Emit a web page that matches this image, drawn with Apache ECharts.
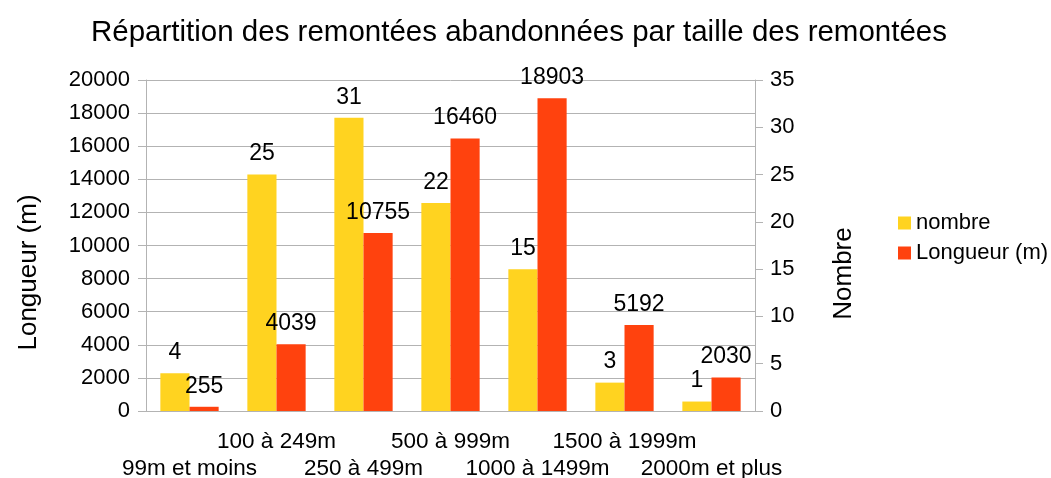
<!DOCTYPE html>
<html>
<head>
	<meta charset="utf-8"/>
	<title>Remontées abandonnées</title>
	<script src="https://cdn.jsdelivr.net/npm/echarts@6/dist/echarts.min.js"></script>
</head>
<body style="margin: 0; background: #fff;">

	<div id="chart" style="width: 1051px; height: 478px;"></div>

	<script>
		// catégories de taille
		var categories = ['99m et moins', '100 à 249m', '250 à 499m', '500 à 999m', '1000 à 1499m', '1500 à 1999m', '2000m et plus'];
		var nombre = [4, 25, 31, 22, 15, 3, 1];
		var longueur = [255, 4039, 10755, 16460, 18903, 5192, 2030];

		var police = 'Liberation Sans, Arial, sans-serif';
		var gris = '#b3b3b3';

		var myChart = echarts.init(document.getElementById('chart'));

		// pas de séparateur de milliers
		function brut (v) {
			return String(v);
		}

		var option = {
			textStyle: { fontFamily: police },
			title: {
				text: 'Répartition des remontées abandonnées par taille des remontées',
				left: 514,
				textAlign: 'center',
				top: 13,
				textStyle: { fontFamily: police, fontSize: 29.5, fontWeight: 'normal', color: '#000' }
			},
			legend: {
				orient: 'vertical',
				left: 893,
				top: 207,
				itemWidth: 13,
				itemHeight: 13,
				itemGap: 8,
				icon: 'rect',
				textStyle: { fontFamily: police, fontSize: 22, color: '#000' },
				data: ['nombre', 'Longueur (m)']
			},
			grid: {
				left: 146,
				right: 296,
				top: 80,
				bottom: 67,
				outerBoundsMode: 'none'
			},
			xAxis: {
				type: 'category',
				data: categories,
				axisLine: { lineStyle: { color: gris } },
				axisTick: { length: 9, lineStyle: { color: gris } },
				axisLabel: {
					interval: 0,
					color: '#000',
					fontSize: 22.5,
					fontFamily: police,
					margin: 17,
					lineHeight: 27,
					// étiquettes décalées sur deux lignes
					formatter: function (v, i) {
						return i % 2 == 0 ? '\n' + v : v;
					}
				}
			},
			yAxis: [
				{
					type: 'value',
					min: 0,
					max: 20000,
					interval: 2000,
					name: 'Longueur (m)',
					nameLocation: 'middle',
					nameRotate: 90,
					nameGap: 104,
					// décalé vers le bas comme dans l'original
					nameTextStyle: { fontSize: 26, color: '#000', fontFamily: police, padding: [0, 54, 0, 0] },
					axisLine: { show: true, lineStyle: { color: gris } },
					axisTick: { show: true, length: 8, lineStyle: { color: gris } },
					axisLabel: { color: '#000', fontSize: 22, fontFamily: police, margin: 16, formatter: brut },
					splitLine: { lineStyle: { color: gris } }
				},
				{
					type: 'value',
					min: 0,
					max: 35,
					interval: 5,
					name: 'Nombre',
					nameLocation: 'middle',
					nameRotate: 90,
					nameGap: 76,
					nameTextStyle: { fontSize: 26, color: '#000', fontFamily: police, padding: [0, 56, 0, 0] },
					axisLine: { show: true, lineStyle: { color: gris } },
					axisTick: { show: true, length: 8, lineStyle: { color: gris } },
					axisLabel: { color: '#000', fontSize: 22, fontFamily: police, margin: 15, formatter: brut },
					splitLine: { show: false }
				}
			],
			series: [
				{
					name: 'nombre',
					type: 'bar',
					yAxisIndex: 1,
					data: nombre,
					barGap: 0,
					barCategoryGap: '33%',
					itemStyle: { color: '#ffd320' },
					label: { show: true, position: 'top', color: '#000', fontSize: 23, fontFamily: police, distance: 9 }
				},
				{
					name: 'Longueur (m)',
					type: 'bar',
					yAxisIndex: 0,
					data: longueur,
					barGap: 0,
					barCategoryGap: '33%',
					itemStyle: { color: '#ff420e' },
					label: { show: true, position: 'top', color: '#000', fontSize: 23, fontFamily: police, distance: 9 }
				}
			]
		};

		myChart.setOption(option);
	</script>
</body>
</html>
